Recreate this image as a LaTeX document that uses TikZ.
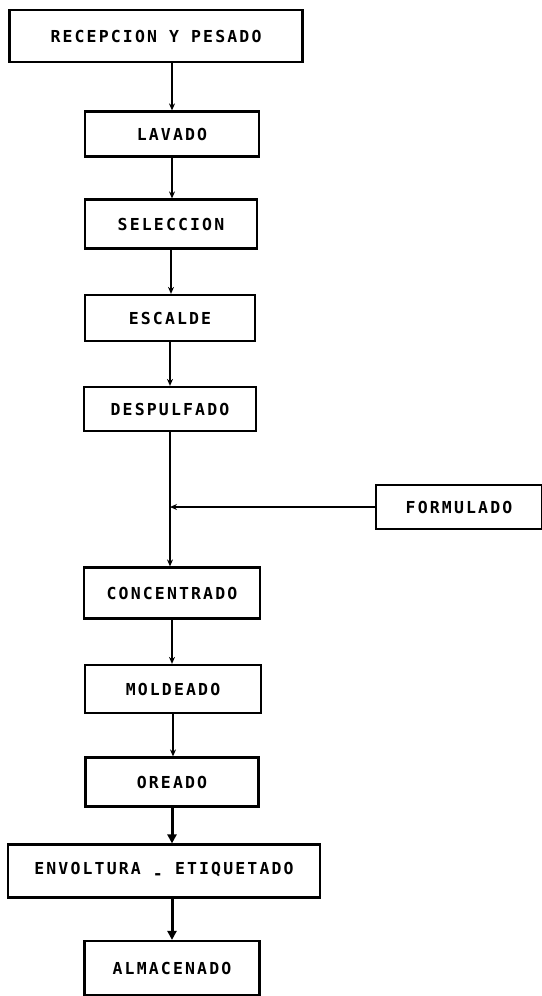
\documentclass[tikz,border=0pt]{standalone}
\usepackage{fontspec}
\setmonofont[LetterSpace=13]{DejaVu Sans Mono}
\usetikzlibrary{arrows.meta, positioning}

\tikzset{
  etapa/.style={draw, line width=2.2pt, font=\ttfamily\bfseries\fontsize{16.5}{19}\selectfont, inner sep=0pt},
  flujo/.style={line width=1.8pt, -{Stealth[length=7pt,width=6pt]}},
  flujog/.style={line width=3pt, -{Triangle[length=9pt,width=9pt]}}
}

\begin{document}
\begin{tikzpicture}[x=1pt, y=-1pt]
  \useasboundingbox (0,0) rectangle (541,996);
  \node (recepcion) [etapa, minimum width=293pt, minimum height=52pt] at (156,36) {RECEPCION Y PESADO};
  \node (lavado) [etapa, minimum width=174pt, minimum height=45pt] at (172,134) {LAVADO};
  \node (seleccion) [etapa, minimum width=172pt, minimum height=49pt] at (171,224) {SELECCION};
  \node (escalde) [etapa, minimum width=170pt, minimum height=46pt] at (170,318) {ESCALDE};
  \node (despulfado) [etapa, minimum width=172pt, minimum height=44pt] at (170,409) {DESPULFADO};
  \node (formulado) [etapa, minimum width=166pt, minimum height=44pt] at (459,507) {FORMULADO};
  \node (concentrado) [etapa, minimum width=176pt, minimum height=51pt] at (172,593) {CONCENTRADO};
  \node (moldeado) [etapa, minimum width=176pt, minimum height=48pt] at (173,689) {MOLDEADO};
  \node (oreado) [etapa, minimum width=173pt, minimum height=49pt] at (172,782) {OREADO};
  \node (envoltura) [etapa, minimum width=312pt, minimum height=53pt] at (164,871) {ENVOLTURA \raisebox{-4.5pt}{-} ETIQUETADO};
  \node (almacenado) [etapa, minimum width=175pt, minimum height=54pt] at (172,968) {ALMACENADO};
  \coordinate (mezcla) at (despulfado.south |- formulado.west);

  \draw[flujo] (recepcion.south -| lavado.north) -- (lavado.north);
  \draw[flujo] (lavado.south) -- (lavado.south |- seleccion.north);
  \draw[flujo] (seleccion.south) -- (seleccion.south |- escalde.north);
  \draw[flujo] (escalde.south) -- (escalde.south |- despulfado.north);
  \draw[flujo] (despulfado.south) -- (despulfado.south |- concentrado.north);
  \draw[flujo] (formulado.west) -- (mezcla);
  \draw[flujo] (concentrado.south) -- (concentrado.south |- moldeado.north);
  \draw[flujo] (moldeado.south) -- (moldeado.south |- oreado.north);
  \draw[flujog] (oreado.south) -- (oreado.south |- envoltura.north);
  \draw[flujog] (envoltura.south -| almacenado.north) -- (almacenado.north);
\end{tikzpicture}
\end{document}
